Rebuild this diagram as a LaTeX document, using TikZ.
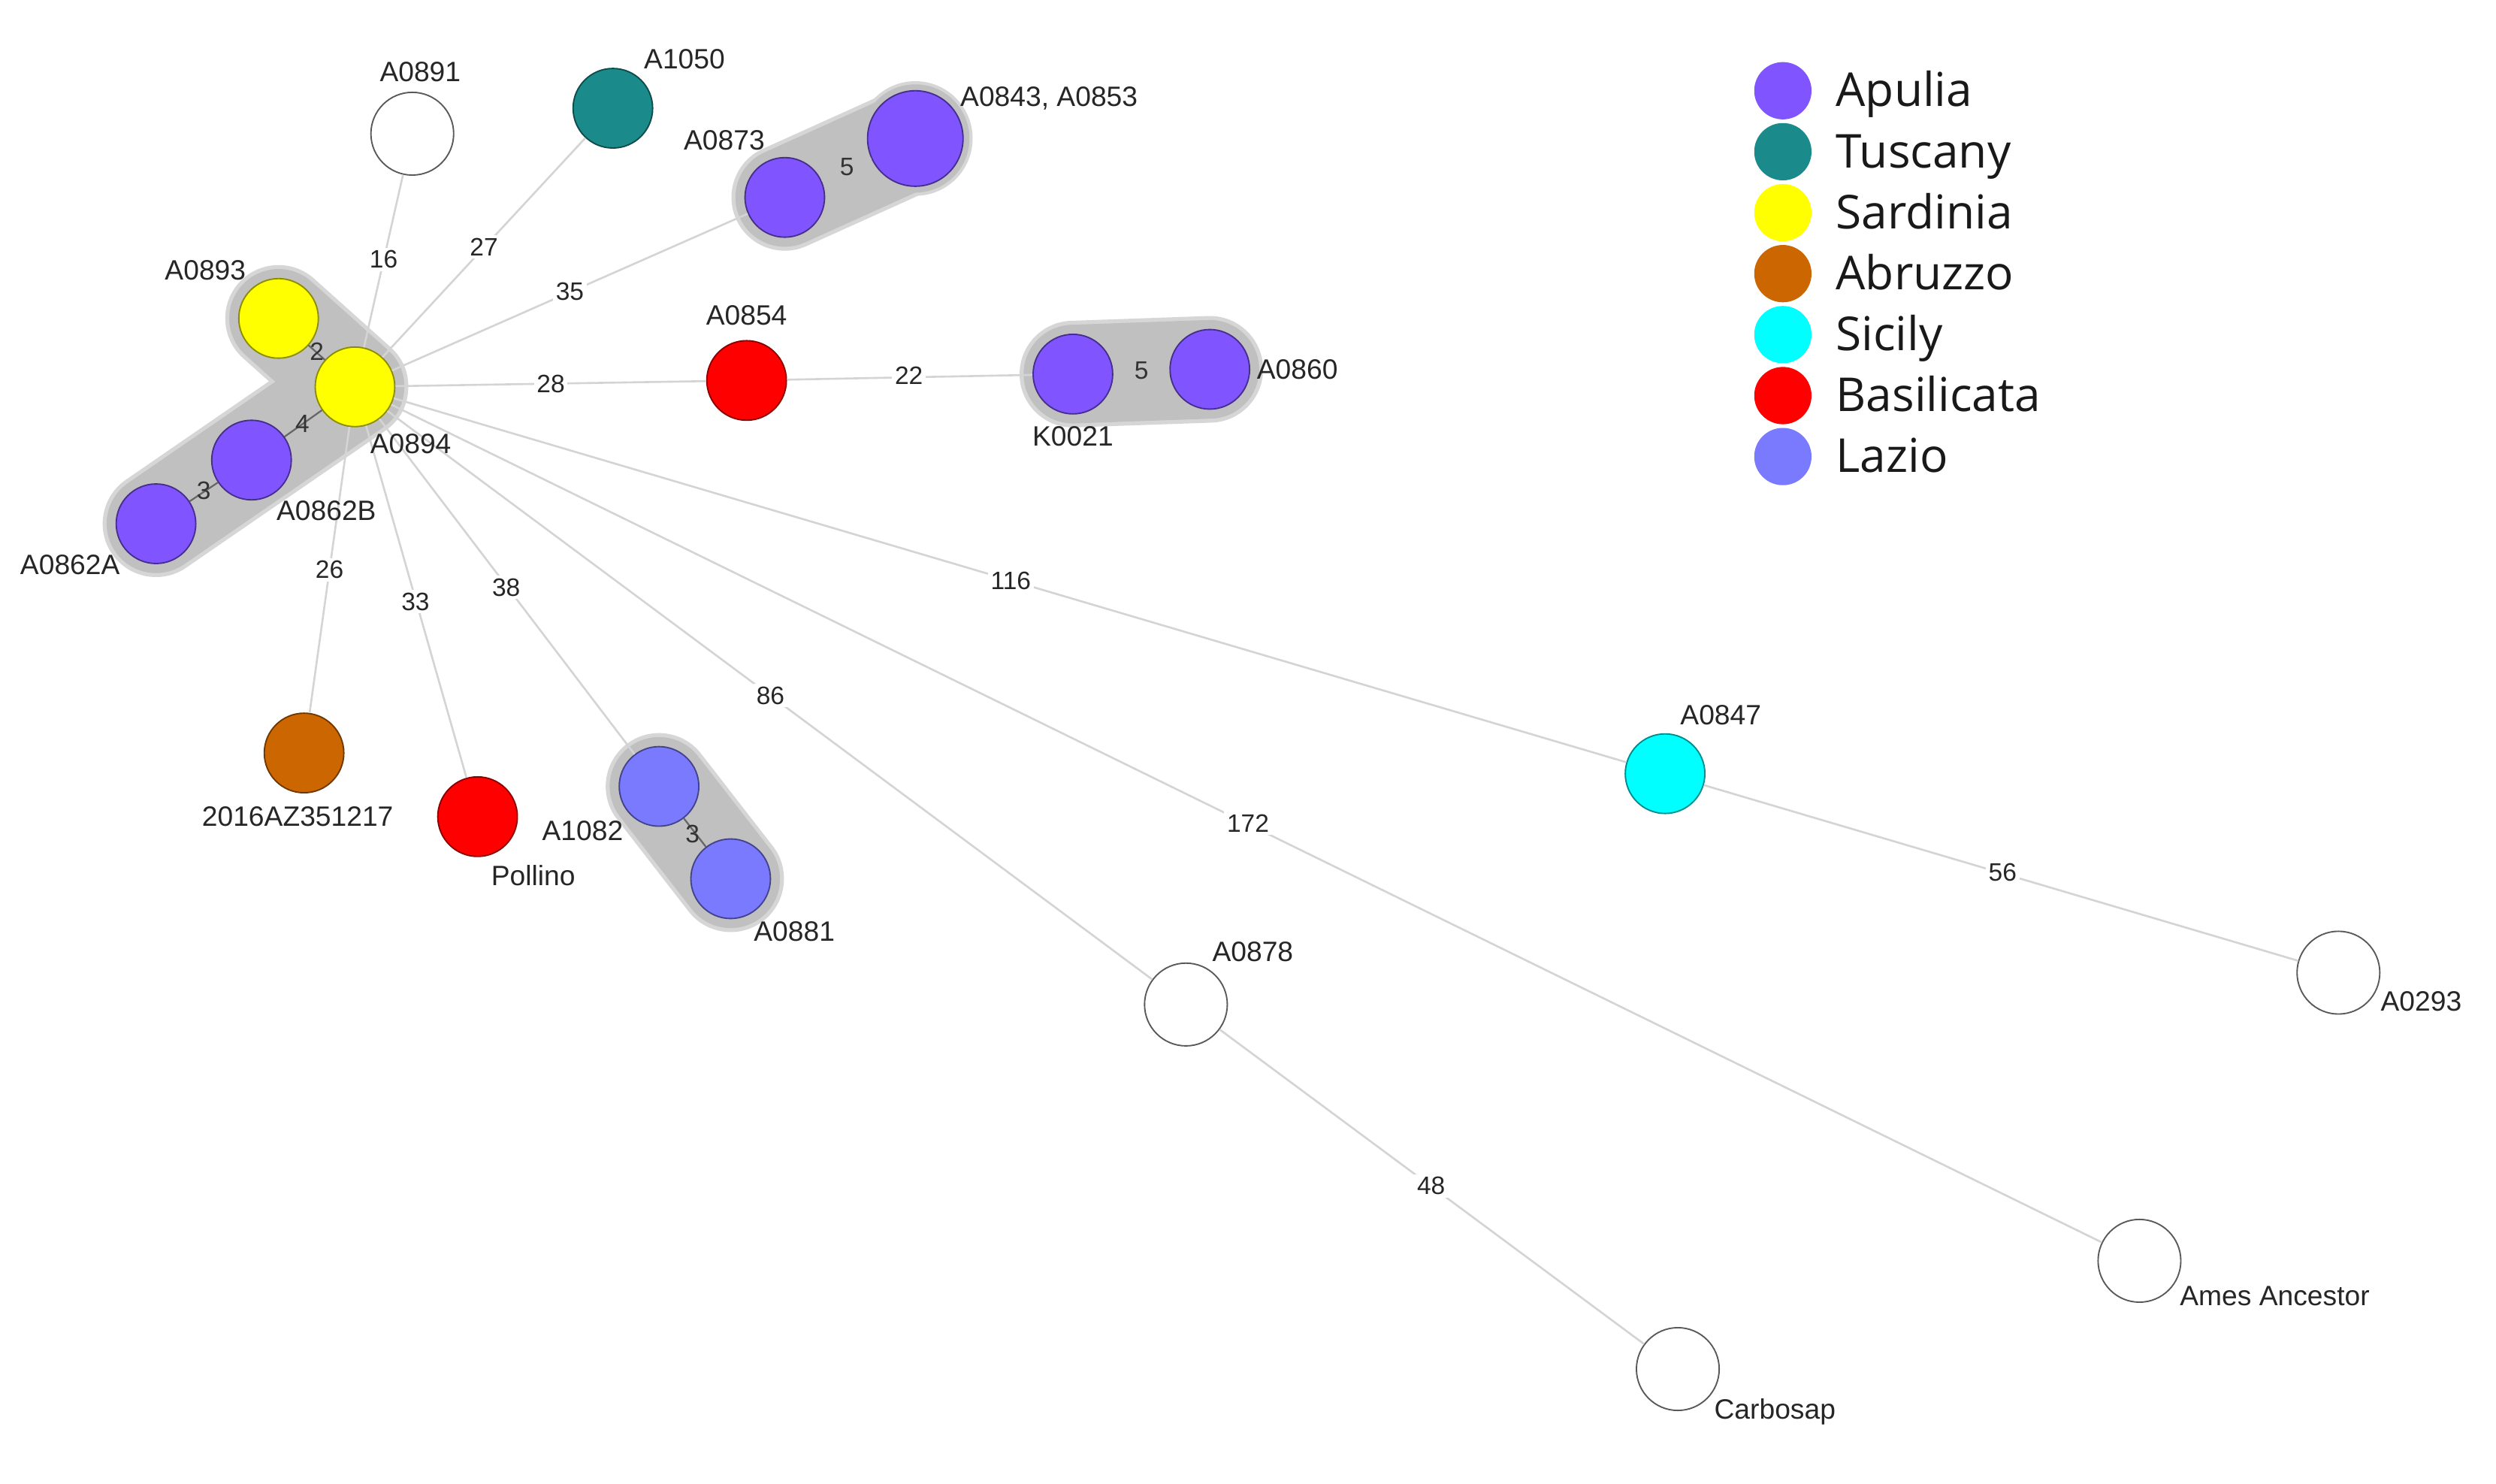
\documentclass[tikz,border=0pt]{standalone}
\usepackage{fontspec}
\setmainfont{Liberation Sans}
\newfontfamily\legendfont{Open Sans}
\usetikzlibrary{backgrounds}
\definecolor{apulia}{RGB}{128,85,255}
\definecolor{tuscany}{RGB}{26,138,138}
\definecolor{sardinia}{RGB}{255,255,0}
\definecolor{abruzzo}{RGB}{204,102,0}
\definecolor{sicily}{RGB}{0,255,255}
\definecolor{basilicata}{RGB}{255,0,0}
\definecolor{lazio}{RGB}{122,122,255}
\definecolor{clustergray}{RGB}{192,192,192}
\definecolor{halogray}{RGB}{214,214,214}
\definecolor{edgegray}{RGB}{212,212,212}
\tikzset{
  strain/.style={circle, minimum size=1cm, inner sep=0pt, line width=0.5pt, draw=#1!55!black, fill=#1},
  blank/.style={circle, minimum size=1.04cm, inner sep=0pt, line width=0.5pt, draw=black!65, fill=white},
  lbl/.style={font=\fontsize{10}{12}\selectfont, text=black!85, inner sep=1pt},
  elbl/.style={font=\fontsize{9}{11}\selectfont, text=black!85, fill=white, inner sep=1pt},
  ilbl/.style={font=\fontsize{9}{11}\selectfont, text=black!80, inner sep=0.5pt},
  link/.style={draw=edgegray, line width=0.7pt},
  ilink/.style={draw=black!60, line width=0.6pt},
  hlink/.style={draw=clustergray, line width=0.6pt},
  cluster/.style={draw=clustergray, line width=1.24cm, line cap=round, line join=round},
  halo/.style={draw=halogray, line width=1.34cm, line cap=round, line join=round},
  legdot/.style={circle, minimum size=0.72cm, inner sep=0pt, fill=#1},
  legtxt/.style={font=\legendfont\fontsize{16.7}{18}\selectfont, anchor=base west, inner sep=0pt, text=black!90}
}
\begin{document}
\begin{tikzpicture}[x=0.02cm, y=-0.02cm]
\path[use as bounding box] (0,0) rectangle (1568,932);

% strain nodes
\node[strain=sardinia] (A0894) at (223,243) {};
\node[strain=sardinia] (A0893) at (175,200) {};
\node[strain=apulia] (A0862B) at (158,289) {};
\node[strain=apulia] (A0862A) at (98,329) {};
\node[blank] (A0891) at (259,84) {};
\node[strain=tuscany] (A1050) at (385,68) {};
\node[strain=apulia] (A0873) at (493,124) {};
\node[strain=apulia, minimum size=1.2cm] (A0843) at (575,87) {};
\node[strain=basilicata] (A0854) at (469,239) {};
\node[strain=apulia] (K0021) at (674,235) {};
\node[strain=apulia] (A0860) at (760,232) {};
\node[strain=abruzzo] (AZ) at (191,473) {};
\node[strain=basilicata] (Pollino) at (300,513) {};
\node[strain=lazio] (A1082) at (414,494) {};
\node[strain=lazio] (A0881) at (459,552) {};
\node[strain=sicily] (A0847) at (1046,486) {};
\node[blank] (A0878) at (745,631) {};
\node[blank] (A0293) at (1469,611) {};
\node[blank] (Ames) at (1344,792) {};
\node[blank] (Carbosap) at (1054,860) {};

% background and clusters
\begin{scope}[on background layer]
  \fill[white] (0,0) rectangle (1568,932);
  \draw[halo] (A0893.center) -- (A0894.center) -- (A0862A.center);
  \draw[halo] (A0873.center) -- (A0843.center);
  \fill[halogray] (A0843.center) circle[radius=0.72cm];
  \draw[halo] (K0021.center) -- (A0860.center);
  \draw[halo] (A1082.center) -- (A0881.center);
  \draw[cluster] (A0893.center) -- (A0894.center) -- (A0862A.center);
  \draw[cluster] (A0873.center) -- (A0843.center);
  \fill[clustergray] (A0843.center) circle[radius=0.68cm];
  \draw[cluster] (K0021.center) -- (A0860.center);
  \draw[cluster] (A1082.center) -- (A0881.center);
\end{scope}

% connectors
\draw[link] (A0894) -- (A0891);
\draw[link] (A0894) -- (A1050);
\draw[link] (A0894) -- (A0873);
\draw[link] (A0894) -- (A0854);
\draw[link] (A0854) -- (K0021);
\draw[link] (A0894) -- (AZ);
\draw[link] (A0894) -- (Pollino);
\draw[link] (A0894) -- (A1082);
\draw[link] (A0894) -- (A0878);
\draw[link] (A0894) -- (Ames);
\draw[link] (A0894) -- (A0847);
\draw[link] (A0847) -- (A0293);
\draw[link] (A0878) -- (Carbosap);
\draw[ilink] (A0893) -- (A0894);
\draw[ilink] (A0894) -- (A0862B);
\draw[ilink] (A0862B) -- (A0862A);
\draw[hlink] (A0873) -- (A0843);
\draw[hlink] (K0021) -- (A0860);
\draw[ilink] (A1082) -- (A0881);

% edge labels
\node[elbl] (l16) at (241,163) {16};
\node[elbl] (l27) at (304,155) {27};
\node[elbl] (l35) at (358,183) {35};
\node[elbl] (l28) at (346,241) {28};
\node[elbl] (l22) at (571,236) {22};
\node[elbl] (l26) at (207,358) {26};
\node[elbl] (l33) at (261,378) {33};
\node[elbl] (l38) at (318,369) {38};
\node[elbl] (l86) at (484,437) {86};
\node[elbl] (l172) at (784,517) {172};
\node[elbl] (l116) at (635,365) {116};
\node[elbl] (l56) at (1258,548) {56};
\node[elbl] (l48) at (899,745) {48};
\node[ilbl] (l2) at (199,221) {2};
\node[ilbl] (l4) at (190,266) {4};
\node[ilbl] (l3a) at (128,308) {3};
\node[ilbl] (l5a) at (532,105) {5};
\node[ilbl] (l5b) at (717,233) {5};
\node[ilbl] (l3b) at (435,524) {3};

% strain labels
\node[lbl] (tA0891) at (264,45) {A0891};
\node[lbl] (tA1050) at (430,37) {A1050};
\node[lbl] (tA0843) at (659,62) {A0843, A0853};
\node[lbl] (tA0873) at (455,88) {A0873};
\node[lbl] (tA0893) at (129,170) {A0893};
\node[lbl] (tA0854) at (469,198) {A0854};
\node[lbl] (tA0860) at (815,232) {A0860};
\node[lbl] (tK0021) at (674,274) {K0021};
\node[lbl] (tA0894) at (258,279) {A0894};
\node[lbl] (tA0862B) at (205,321) {A0862B};
\node[lbl] (tA0862A) at (44,355) {A0862A};
\node[lbl] (tAZ) at (187,513) {2016AZ351217};
\node[lbl] (tPollino) at (335,550) {Pollino};
\node[lbl] (tA1082) at (366,522) {A1082};
\node[lbl] (tA0881) at (499,585) {A0881};
\node[lbl] (tA0847) at (1081,449) {A0847};
\node[lbl] (tA0878) at (787,598) {A0878};
\node[lbl] (tA0293) at (1521,629) {A0293};
\node[lbl] (tAmes) at (1429,814) {Ames Ancestor};
\node[lbl] (tCarbosap) at (1115,887) {Carbosap};

% legend
\node[legdot=apulia] (d1) at (1120,57) {};
\node[legdot=tuscany] (d2) at (1120,95.3) {};
\node[legdot=sardinia] (d3) at (1120,133.6) {};
\node[legdot=abruzzo] (d4) at (1120,171.9) {};
\node[legdot=sicily] (d5) at (1120,210.2) {};
\node[legdot=basilicata] (d6) at (1120,248.5) {};
\node[legdot=lazio] (d7) at (1120,286.8) {};
\node[legtxt] (g1) at (1153,67) {Apulia};
\node[legtxt] (g2) at (1153,105.3) {Tuscany};
\node[legtxt] (g3) at (1153,143.6) {Sardinia};
\node[legtxt] (g4) at (1153,181.9) {Abruzzo};
\node[legtxt] (g5) at (1153,220.2) {Sicily};
\node[legtxt] (g6) at (1153,258.5) {Basilicata};
\node[legtxt] (g7) at (1153,296.8) {Lazio};
\end{tikzpicture}
\end{document}
